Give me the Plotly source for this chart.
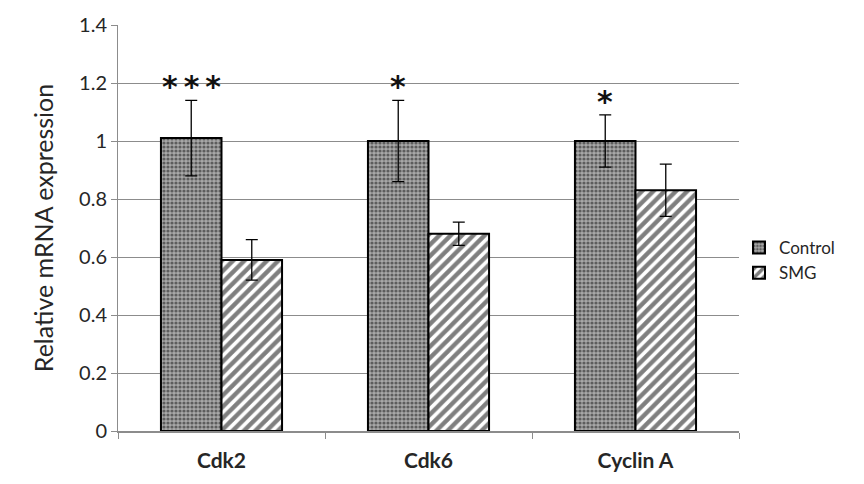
import plotly.graph_objects as go

genes = ["Cdk2", "Cdk6", "Cyclin A"]
control = [1.01, 1.0, 1.0]
control_err = [0.13, 0.14, 0.09]
smg = [0.59, 0.68, 0.83]
smg_err = [0.07, 0.04, 0.09]
signif = ["*\u2009*\u2009*", "*", "*"]
y_ticks = [0, 0.2, 0.4, 0.6, 0.8, 1.0, 1.2, 1.4]
y_tick_text = ["0", "0.2", "0.4", "0.6", "0.8", "1", "1.2", "1.4"]

BARGAP = 0.415
font_family = "Lato, 'Open Sans', sans-serif"
grid = "#8c8c8c"
text_color = "#262626"

fig = go.Figure()
fig.add_trace(go.Bar(
    name="Control", x=genes, y=control,
    error_y=dict(type="data", array=control_err, color="black", thickness=1.3, width=6),
    marker=dict(color="#8f8f8f", line=dict(color="black", width=2),
                pattern=dict(shape=".", fgcolor="#111111", bgcolor="#a8a8a8",
                             size=4, solidity=0.5)),
))
fig.add_trace(go.Bar(
    name="SMG", x=genes, y=smg,
    error_y=dict(type="data", array=smg_err, color="black", thickness=1.3, width=6),
    marker=dict(color="white", line=dict(color="black", width=2),
                pattern=dict(shape="/", fgcolor="black", bgcolor="white",
                             size=8, solidity=0.55)),
))

# significance marks above the Control bars
offset = (1 - BARGAP) / 4
for i, (v, e, s) in enumerate(zip(control, control_err, signif)):
    fig.add_annotation(x=i - offset, y=v + e, text=f"<b>{s}</b>", showarrow=False,
                       yanchor="bottom", yshift=-6,
                       font=dict(size=30, family="DejaVu Sans", color="#111"))

fig.update_layout(
    width=864, height=484,
    margin=dict(l=118, r=125, t=20, b=52),
    plot_bgcolor="white", paper_bgcolor="white",
    barmode="group", bargap=BARGAP, bargroupgap=0,
    font=dict(family=font_family, color=text_color),
    legend=dict(x=1.0, y=0.42, xanchor="left", yanchor="middle",
                font=dict(size=17, family=font_family, color=text_color),
                itemwidth=30, tracegroupgap=2),
    showlegend=True,
)
fig.update_yaxes(range=[0, 1.4], tickvals=y_ticks, ticktext=y_tick_text,
                 showgrid=True, gridcolor=grid, gridwidth=1,
                 showline=True, linecolor=grid, linewidth=1,
                 ticks="outside", ticklen=6, tickcolor=grid,
                 tickfont=dict(size=20, color=text_color),
                 title=dict(text="Relative mRNA expression", font=dict(size=25, color=text_color),
                            standoff=18),
                 zeroline=False)
fig.update_xaxes(showline=True, linecolor=grid, linewidth=1.5,
                 ticks="outside", ticklen=6, tickcolor=grid, tickson="boundaries",
                 tickfont=dict(size=21, color=text_color, family="Lato, sans-serif", weight="bold"),
                 ticklabelstandoff=10)

fig.write_html("out.html")
